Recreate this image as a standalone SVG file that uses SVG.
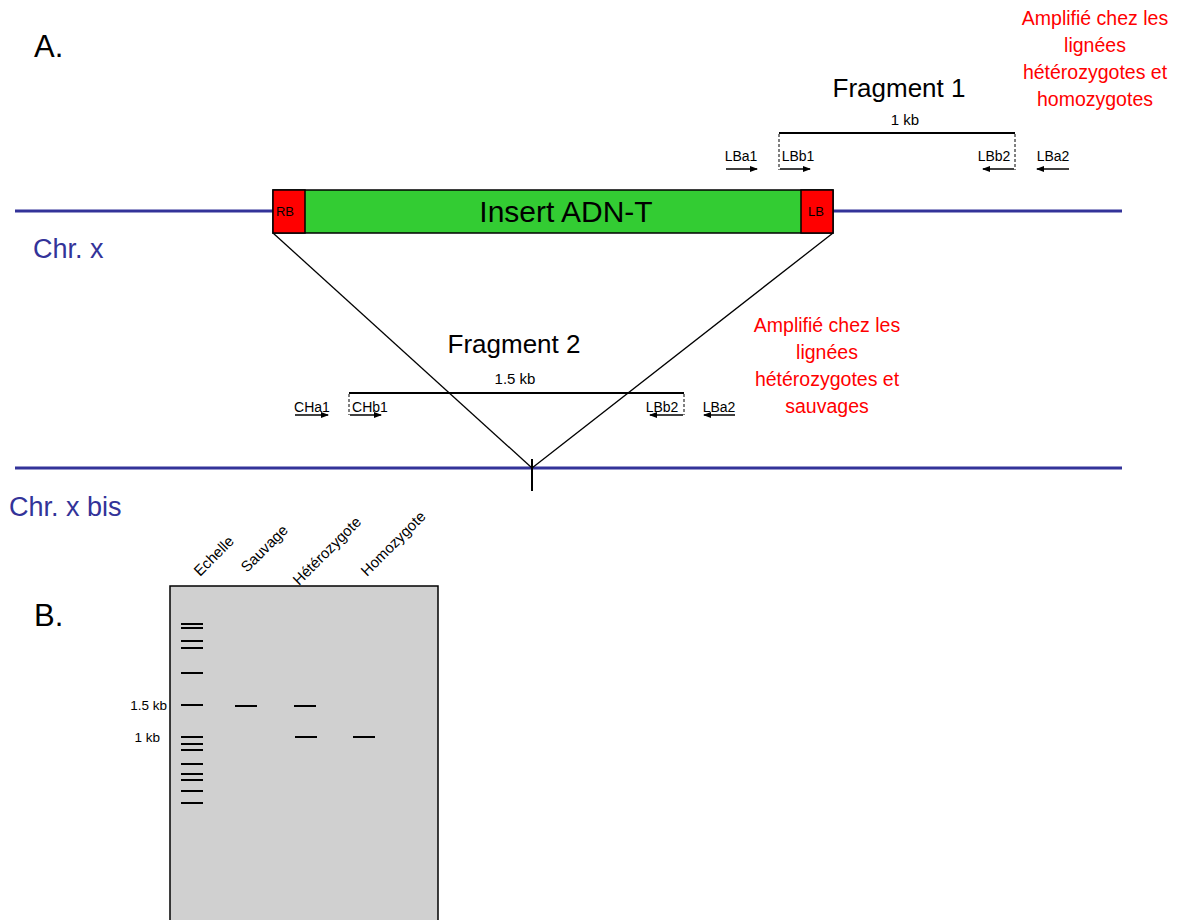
<svg xmlns="http://www.w3.org/2000/svg" width="1180" height="920" viewBox="0 0 1180 920">
<style>
text{font-family:"Liberation Sans",Arial,sans-serif;fill:#000}
.chr{stroke:#333399;stroke-width:3;fill:none}
.blue{fill:#333399;font-size:27px}
.red{fill:#ff0000;font-size:19.5px;text-anchor:middle}
.lbl{font-size:14px}
.pr{stroke:#000;stroke-width:1.5;fill:none}
.dash{stroke:#000;stroke-width:1;stroke-dasharray:3,2;fill:none}
.band{stroke:#000;stroke-width:2}
.lane{font-size:15px}
.frag{font-size:26px;text-anchor:middle}
</style>
<defs>
<marker id="ah" markerWidth="8" markerHeight="6" refX="7" refY="3" orient="auto" markerUnits="userSpaceOnUse">
<path d="M0,0 L8,3 L0,6 Z" fill="#000"/>
</marker>
</defs>
<rect width="1180" height="920" fill="#fff"/>

<g id="labels-panels">
<text x="34" y="57" font-size="31">A.</text>
<text x="34" y="626" font-size="31">B.</text>
</g>

<g id="chromosomes">
<line class="chr" x1="15" y1="211" x2="273" y2="211"/>
<line class="chr" x1="833" y1="211" x2="1122" y2="211"/>
<line class="chr" x1="15" y1="468" x2="1122" y2="468"/>
<text class="blue" x="33" y="258">Chr. x</text>
<text class="blue" x="9" y="516">Chr. x bis</text>
</g>

<g id="connectors">
<line x1="273" y1="233" x2="532" y2="468" stroke="#000" stroke-width="1.3"/>
<line x1="833" y1="233" x2="532" y2="468" stroke="#000" stroke-width="1.3"/>
<line x1="532" y1="459" x2="532" y2="491" stroke="#000" stroke-width="2"/>
</g>

<g id="insert">
<rect x="273" y="190" width="560" height="43" fill="#33cc33" stroke="#000" stroke-width="1.5"/>
<rect x="273" y="190" width="32" height="43" fill="#ff0000" stroke="#000" stroke-width="1.5"/>
<rect x="801" y="190" width="32" height="43" fill="#ff0000" stroke="#000" stroke-width="1.5"/>
<text x="285" y="216" font-size="13" text-anchor="middle">RB</text>
<text x="816" y="216" font-size="13" text-anchor="middle">LB</text>
<text x="566" y="222" font-size="30" text-anchor="middle">Insert ADN-T</text>
</g>

<g id="fragment1">
<text class="frag" x="899" y="97">Fragment 1</text>
<text x="905" y="125" font-size="15" text-anchor="middle">1 kb</text>
<line x1="779" y1="133" x2="1015" y2="133" stroke="#000" stroke-width="2"/>
<line class="dash" x1="779" y1="134" x2="779" y2="170"/>
<line class="dash" x1="1015" y1="134" x2="1015" y2="170"/>
<text class="lbl" x="741" y="161" text-anchor="middle">LBa1</text>
<line class="pr" x1="726" y1="169" x2="757" y2="169" marker-end="url(#ah)"/>
<text class="lbl" x="798" y="161" text-anchor="middle">LBb1</text>
<line class="pr" x1="780" y1="169" x2="810" y2="169" marker-end="url(#ah)"/>
<text class="lbl" x="994" y="161" text-anchor="middle">LBb2</text>
<line class="pr" x1="1014" y1="169" x2="983" y2="169" marker-end="url(#ah)"/>
<text class="lbl" x="1053" y="161" text-anchor="middle">LBa2</text>
<line class="pr" x1="1069" y1="169" x2="1037" y2="169" marker-end="url(#ah)"/>
<text class="red" x="1095" y="25">Amplifié chez les</text>
<text class="red" x="1095" y="52">lignées</text>
<text class="red" x="1095" y="79">hétérozygotes et</text>
<text class="red" x="1095" y="106">homozygotes</text>
</g>

<g id="fragment2">
<text class="frag" x="514" y="353">Fragment 2</text>
<text x="515" y="384" font-size="15" text-anchor="middle">1.5 kb</text>
<line x1="349" y1="393" x2="684" y2="393" stroke="#000" stroke-width="2"/>
<line class="dash" x1="349" y1="394" x2="349" y2="415"/>
<line class="dash" x1="684" y1="394" x2="684" y2="415"/>
<text class="lbl" x="312" y="412" text-anchor="middle">CHa1</text>
<line class="pr" x1="295" y1="415" x2="328" y2="415" marker-end="url(#ah)"/>
<text class="lbl" x="370" y="412" text-anchor="middle">CHb1</text>
<line class="pr" x1="350" y1="415" x2="381" y2="415" marker-end="url(#ah)"/>
<text class="lbl" x="662" y="412" text-anchor="middle">LBb2</text>
<line class="pr" x1="683" y1="415" x2="650" y2="415" marker-end="url(#ah)"/>
<text class="lbl" x="719" y="412" text-anchor="middle">LBa2</text>
<line class="pr" x1="735" y1="415" x2="704" y2="415" marker-end="url(#ah)"/>
<text class="red" x="827" y="332">Amplifié chez les</text>
<text class="red" x="827" y="359">lignées</text>
<text class="red" x="827" y="386">hétérozygotes et</text>
<text class="red" x="827" y="413">sauvages</text>
</g>

<g id="gel">
<rect x="170" y="586" width="268" height="340" fill="#d0d0d0" stroke="#000" stroke-width="1.5"/>
<g class="band">
<line x1="181" y1="624" x2="203" y2="624"/>
<line x1="181" y1="628" x2="203" y2="628"/>
<line x1="181" y1="641" x2="203" y2="641"/>
<line x1="181" y1="648" x2="203" y2="648"/>
<line x1="181" y1="673" x2="203" y2="673"/>
<line x1="181" y1="705" x2="203" y2="705"/>
<line x1="181" y1="737" x2="203" y2="737"/>
<line x1="181" y1="744" x2="203" y2="744"/>
<line x1="181" y1="750" x2="203" y2="750"/>
<line x1="181" y1="764" x2="203" y2="764"/>
<line x1="181" y1="774" x2="203" y2="774"/>
<line x1="181" y1="780" x2="203" y2="780"/>
<line x1="181" y1="791" x2="203" y2="791"/>
<line x1="181" y1="803" x2="203" y2="803"/>
<line x1="235" y1="706" x2="257" y2="706"/>
<line x1="294" y1="706" x2="316" y2="706"/>
<line x1="295" y1="737" x2="317" y2="737"/>
<line x1="353" y1="737" x2="375" y2="737"/>
</g>
<text x="167" y="710" font-size="13.5" text-anchor="end">1.5 kb</text>
<text x="160" y="742" font-size="13.5" text-anchor="end">1 kb</text>
<text class="lane" transform="translate(200,577) rotate(-45)">Echelle</text>
<text class="lane" transform="translate(247,573) rotate(-45)">Sauvage</text>
<text class="lane" transform="translate(299,586) rotate(-45)">Hétérozygote</text>
<text class="lane" transform="translate(367,577) rotate(-45)">Homozygote</text>
</g>
</svg>
